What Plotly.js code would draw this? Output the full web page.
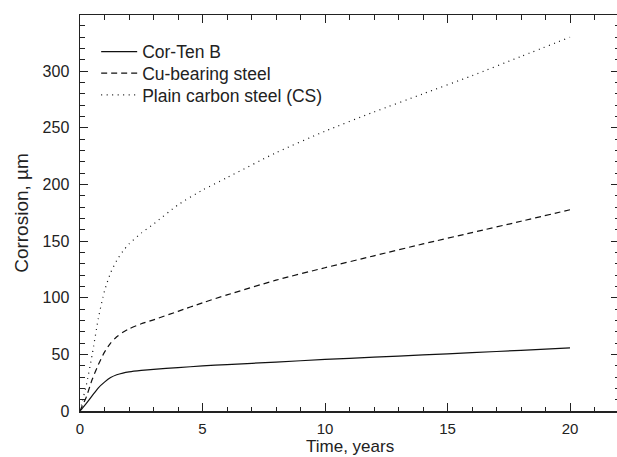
<!DOCTYPE html>
<html>
<head>
<meta charset="utf-8">
<script src="https://cdn.plot.ly/plotly-3.0.1.min.js"></script>
<style>
html,body{margin:0;padding:0;overflow:hidden;background:#fff;}
#chart{width:622px;height:457px;}
</style>
</head>
<body>
<div id="chart"></div>
<script>
var timeYears = [0, 0.1, 0.25, 0.5, 0.75, 1, 1.25, 1.5, 1.75, 2, 2.5, 3, 4, 5, 6, 8, 10, 12, 14, 16, 18, 20];
var corTenB   = [0, 2.5, 6.5, 13.5, 20.5, 25.5, 29.5, 32, 33.5, 34.5, 35.8, 36.8, 38.3, 39.8, 41, 43.2, 45.5, 47.5, 49.5, 51.5, 53.6, 55.7];
var cuBearing = [0, 5, 12, 28, 41, 52, 60, 65.5, 69.5, 72.5, 77, 80.5, 88, 95.5, 102.5, 115.5, 126.5, 137, 147.5, 157.5, 167.5, 177.7];
var plainCS   = [0, 9, 22, 50, 82, 106, 122, 133, 141, 147.5, 157, 165, 182, 195, 206, 228, 247, 264, 280, 296, 313, 330];
var seriesNames = ["Cor-Ten B", "Cu-bearing steel", "Plain carbon steel (CS)"];
var xTitle = "Time, years";
var yTitle = "Corrosion, µm";

var FONT = "Liberation Sans, Arial, sans-serif";
var INK = "#222";

function tr(y, name, dash, lg) {
  return {
    x: timeYears, y: y, name: name, type: "scatter", mode: "lines", legend: lg,
    line: {color: "#111", width: 1.2, dash: dash, shape: "spline", smoothing: 0.6}
  };
}

var data = [
  tr(corTenB, seriesNames[0], "solid", "legend"),
  tr(cuBearing, seriesNames[1], "6px,4px", "legend2"),
  tr(plainCS, seriesNames[2], "1px,4.5px", "legend3")
];

var axisCommon = {
  showgrid: false, zeroline: false, showline: true, linecolor: INK, linewidth: 1.5,
  mirror: "allticks", ticks: "inside", ticklen: 8, tickwidth: 1, tickcolor: INK,
  tickfont: {family: FONT, size: 16, color: INK}
};

function lg(y) {
  return {x: 0.03, y: y, xanchor: "left", yanchor: "middle", itemwidth: 36,
          bgcolor: "rgba(0,0,0,0)", font: {family: FONT, size: 17.5, color: INK}};
}

var layout = {
  width: 622, height: 457,
  margin: {l: 80, r: 3, t: 15, b: 46},
  paper_bgcolor: "#fff", plot_bgcolor: "#fff",
  font: {family: FONT, color: INK},
  showlegend: true,
  legend: lg(0.9073),
  legend2: lg(0.8528),
  legend3: lg(0.798),
  annotations: [{
    text: xTitle, xref: "paper", yref: "paper", x: 0.5, y: -0.1162,
    xanchor: "center", yanchor: "bottom", showarrow: false, borderpad: 0,
    font: {family: FONT, size: 17, color: INK}
  }],
  xaxis: Object.assign({}, axisCommon, {
    range: [0, 22], dtick: 5, tick0: 0,
    minor: {dtick: 1, ticks: "inside", ticklen: 4.5, tickcolor: INK, tickwidth: 1},
    tickfont: {family: FONT, size: 15, color: INK},
    ticklabelstandoff: 3,
    automargin: false
  }),
  yaxis: Object.assign({}, axisCommon, {
    range: [0, 349.6], dtick: 50, tick0: 0,
    minor: {dtick: 10, ticks: "inside", ticklen: 4.5, tickcolor: INK, tickwidth: 1},
    ticklabelstandoff: 6,
    title: {text: yTitle, font: {family: FONT, size: 19, color: INK}, standoff: 9},
    automargin: false
  })
};

Plotly.newPlot("chart", data, layout, {staticPlot: true, displayModeBar: false});
</script>
</body>
</html>
